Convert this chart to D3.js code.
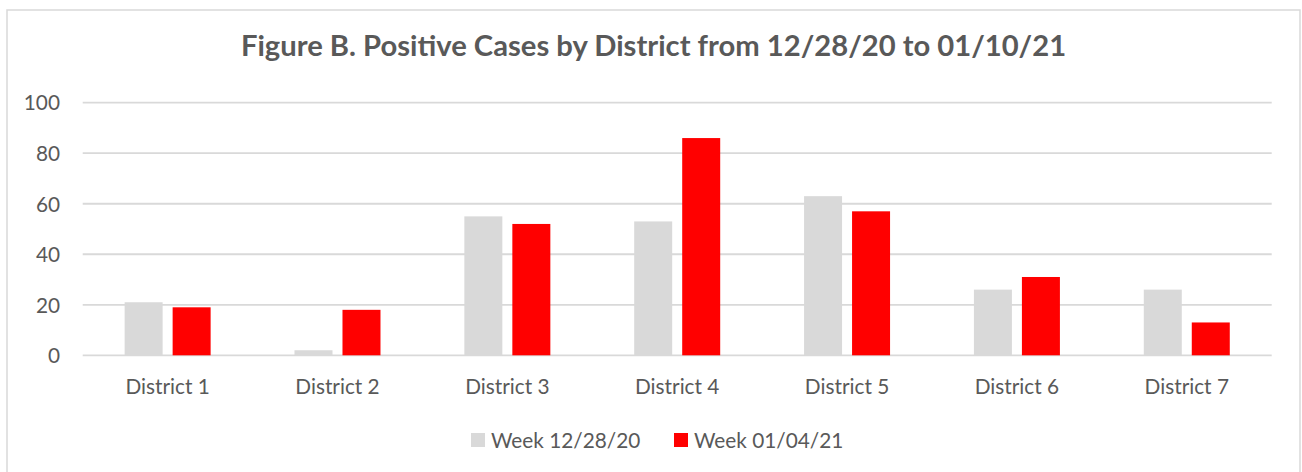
<!DOCTYPE html>
<html>
<head>
<meta charset="utf-8">
<script src="https://cdn.jsdelivr.net/npm/d3@7"></script>
<style>
  html, body { margin: 0; padding: 0; background: #fff; }
  svg text { font-family: Lato, "Open Sans", sans-serif; fill: #595959; }
</style>
</head>
<body>
<div id="chart"></div>
<script>
// chart data
const districts = ['District 1', 'District 2', 'District 3', 'District 4', 'District 5', 'District 6', 'District 7'];
const seriesNames = ['Week 12/28/20', 'Week 01/04/21'];
const week1228 = [21, 2, 55, 53, 63, 26, 26];
const week0104 = [19, 18, 52, 86, 57, 31, 13];
const yTicks = [0, 20, 40, 60, 80, 100];
const seriesColors = ['#D9D9D9', '#FF0000'];
const chartTitle = 'Figure B. Positive Cases by District from 12/28/20 to 01/10/21';

let width = 1302, height = 472;
let plotLeft = 82.7, plotRight = 1271.7, plotTop = 102.7, plotBottom = 355.3;
let labelSize = 20.8;

let svg = d3.select('#chart').append('svg')
    .attr('width', width)
    .attr('height', height);

// outer frame
svg.append('rect')
    .attr('x', 7)
    .attr('y', 10)
    .attr('width', 1293)
    .attr('height', 480)
    .attr('fill', '#fff')
    .attr('stroke', '#D9D9D9')
    .attr('stroke-width', 1.5);

let x = d3.scaleBand()
    .domain(districts)
    .range([plotLeft, plotRight])
    .padding(0);

let xInner = d3.scaleBand()
    .domain(seriesNames)
    .range([-43, 43])
    .paddingInner(10 / 48);

let y = d3.scaleLinear()
    .domain([0, 100])
    .range([plotBottom, plotTop]);

// gridlines
svg.append('g').attr('class', 'grid')
    .selectAll('line')
    .data(yTicks)
    .enter()
    .append('line')
    .attr('x1', plotLeft)
    .attr('x2', plotRight)
    .attr('y1', d => y(d))
    .attr('y2', d => y(d))
    .attr('stroke', '#D9D9D9')
    .attr('stroke-width', 1.8);

// y axis labels
let yAxis = d3.axisLeft(y).tickValues(yTicks).tickSize(0).tickPadding(0);
let yg = svg.append('g')
    .attr('transform', 'translate(60,0)')
    .call(yAxis);
yg.select('.domain').remove();
yg.selectAll('text')
    .attr('font-size', labelSize)
    .attr('dy', '0.35em')
    .style('font-family', 'Lato, sans-serif')
    .attr('fill', '#595959');

// x axis labels
let xAxis = d3.axisBottom(x).tickSize(0).tickPadding(0);
let xg = svg.append('g')
    .attr('transform', 'translate(0,' + 394 + ')')
    .call(xAxis);
xg.select('.domain').remove();
xg.selectAll('text')
    .attr('font-size', labelSize)
    .attr('dy', 0)
    .attr('y', 0)
    .style('font-family', 'Lato, sans-serif')
    .attr('fill', '#595959');

// bars
let rows = districts.map((d, i) => ({ district: d, values: [week1228[i], week0104[i]] }));
let groups = svg.append('g').attr('class', 'bars')
    .selectAll('g')
    .data(rows)
    .enter()
    .append('g')
    .attr('transform', d => 'translate(' + (x(d.district) + x.bandwidth() / 2) + ',0)');

groups.selectAll('rect')
    .data(d => d.values.map((v, j) => ({ series: seriesNames[j], value: v, color: seriesColors[j] })))
    .enter()
    .append('rect')
    .attr('x', d => xInner(d.series))
    .attr('width', xInner.bandwidth())
    .attr('y', d => y(d.value))
    .attr('height', d => y(0) - y(d.value))
    .attr('fill', d => d.color);

// title
svg.append('text')
    .attr('x', 653.5)
    .attr('y', 56)
    .attr('text-anchor', 'middle')
    .attr('font-size', 29.2)
    .attr('font-weight', 'bold')
    .text(chartTitle);

// legend
let legendX = [471, 674];
let legend = svg.append('g').attr('class', 'legend')
    .selectAll('g')
    .data(seriesNames)
    .enter()
    .append('g')
    .attr('transform', (d, i) => 'translate(' + legendX[i] + ',433)');
legend.append('rect')
    .attr('width', 14)
    .attr('height', 14)
    .attr('fill', (d, i) => seriesColors[i]);
legend.append('text')
    .attr('x', 20)
    .attr('y', 14.5)
    .attr('font-size', labelSize)
    .text(d => d);
</script>
</body>
</html>
